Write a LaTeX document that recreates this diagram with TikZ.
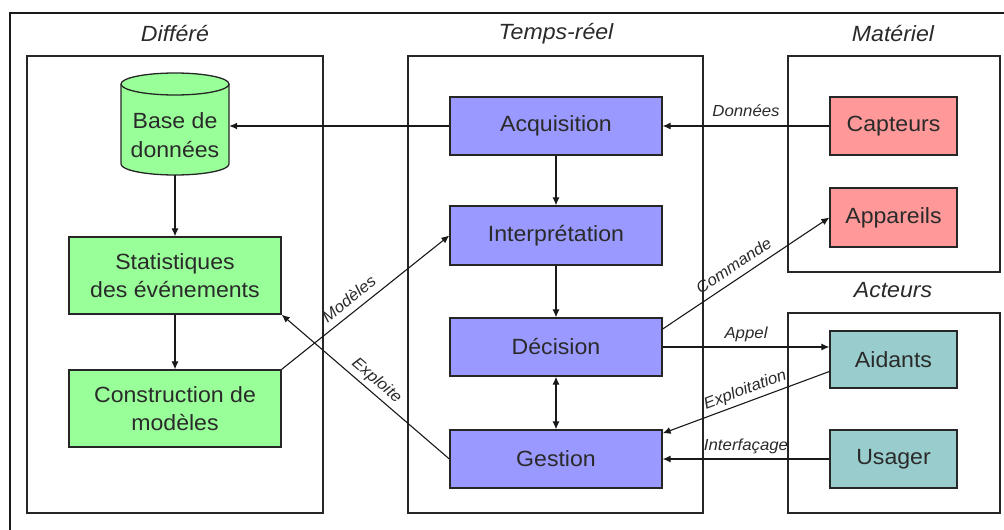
\documentclass[tikz,border=0pt]{standalone}
\usepackage{fontspec}
\setmainfont{Liberation Sans}[FakeStretch=1.05]
\usetikzlibrary{arrows.meta,calc}
\definecolor{gfill}{HTML}{99FF99}
\definecolor{bfill}{HTML}{9999FF}
\definecolor{rfill}{HTML}{FF9999}
\definecolor{tfill}{HTML}{99CCCC}
\definecolor{txt}{HTML}{2A2A2A}
\begin{document}
\begin{tikzpicture}[x=1pt,y=-1pt,
  panel/.style={draw=black!85, line width=1.1pt, inner sep=0pt},
  box/.style={draw=black!85, line width=1.3pt, inner sep=0pt, align=center,
    text=txt, font=\fontsize{22}{27.5}\selectfont, minimum width=212pt},
  sbox/.style={box, minimum width=127pt},
  title/.style={font=\fontsize{22}{26}\selectfont\itshape, text=txt},
  lab/.style={font=\fontsize{16}{18}\selectfont\itshape, text=txt, inner sep=1pt,
    text height=12pt, text depth=4pt},
  tip/.style={Latex[length=8pt,width=7pt]},
  arr/.style={-{Latex[length=8pt,width=7pt]}, line width=1.1pt, draw=black!90},
  darr/.style={{Latex[length=8pt,width=7pt]}-{Latex[length=8pt,width=7pt]}, line width=1.1pt, draw=black!90}
]
\useasboundingbox (0,0) rectangle (1004,530);
% outer frame (partly visible)
\draw[line width=1.5pt, black!90] (10,530) -- (10,13) -- (1004,13);

% panels
\node[panel, minimum width=296pt, minimum height=457pt] (pdiff) at (175,284.5) {};
\node[panel, minimum width=295pt, minimum height=457pt] (preal) at (555.5,284.5) {};
\node[panel, minimum width=212pt, minimum height=216pt] (pmat) at (894,164) {};
\node[panel, minimum width=212pt, minimum height=200pt] (pact) at (894,413) {};

% titles
\node[title] (tdiff) at (175,34) {Différé};
\node[title] (treal) at (556,34) {Temps-réel};
\node[title] (tmat) at (893,34) {Matériel};
\node[title] (tact) at (893,290) {Acteurs};

% database cylinder
\node[minimum width=108pt, minimum height=102pt, inner sep=0pt] (bd) at (175,124) {};
\filldraw[fill=gfill, draw=black!85, line width=1.3pt]
  (121,84) -- (121,164) arc[start angle=180, end angle=360, x radius=54pt, y radius=11pt]
  -- (229,84) arc[start angle=0, end angle=180, x radius=54pt, y radius=11pt] -- cycle;
\draw[black!85, line width=1.3pt] (121,84) arc[start angle=180, end angle=360, x radius=54pt, y radius=11pt];
\node[align=center, text=txt, font=\fontsize{22}{29}\selectfont] (bdt) at (175,135) {Base de\\données};

% Différé boxes
\node[box, fill=gfill, minimum height=77pt] (stat) at (175,275.5) {Statistiques\\des événements};
\node[box, fill=gfill, minimum height=77pt] (cons) at (175,408.5) {Construction de\\modèles};

% Temps-réel boxes
\node[box, fill=bfill, minimum height=58pt] (acq) at (556,126) {Acquisition};
\node[box, fill=bfill, minimum height=59pt] (interp) at (556,235.5) {Interprétation};
\node[box, fill=bfill, minimum height=58pt] (dec) at (556,347) {Décision};
\node[box, fill=bfill, minimum height=58pt] (gest) at (556,459) {Gestion};

% Matériel / Acteurs boxes
\node[sbox, fill=rfill, minimum height=58pt] (capt) at (893.5,126) {Capteurs};
\node[sbox, fill=rfill, minimum height=59pt] (app) at (893.5,217.5) {Appareils};
\node[sbox, fill=tfill, minimum height=57pt] (aid) at (893.5,359.5) {Aidants};
\node[sbox, fill=tfill, minimum height=58pt] (usa) at (893.5,459) {Usager};

% connectors
\draw[arr] (acq.west) -- (acq.west -| bd.east);
\draw[arr] (capt.west) -- node[lab, above=4pt, pos=0.5] {Données} (acq.east);
\draw[arr] (bd.south) -- (stat.north);
\draw[arr] (stat.south) -- (cons.north);
\draw[arr] (acq.south) -- (interp.north);
\draw[arr] (interp.south) -- (dec.north);
\draw[darr] (dec.south) -- (gest.north);
\draw[arr] (cons.north east) -- node[lab, sloped, above=2pt, pos=0.45] {Modèles} (interp.west);
\draw[arr] (gest.west) -- node[lab, sloped, above=2pt, pos=0.48] {Exploite} (stat.south east);
\draw[arr] ($(dec.east)+(0,-18)$) -- node[lab, sloped, above=2pt, pos=0.47] {Commande} (app.west);
\draw[arr] (dec.east) -- node[lab, above=3pt, pos=0.5] {Appel} (dec.east -| aid.west);
\draw[arr] ($(aid.west)+(0,12)$) -- node[lab, sloped, above=2pt, pos=0.48] {Exploitation} ($(gest.north east)+(0,4)$);
\draw[arr] (usa.west) -- node[lab, above=3pt, pos=0.5] {Interfaçage} (gest.east);
\end{tikzpicture}
\end{document}
